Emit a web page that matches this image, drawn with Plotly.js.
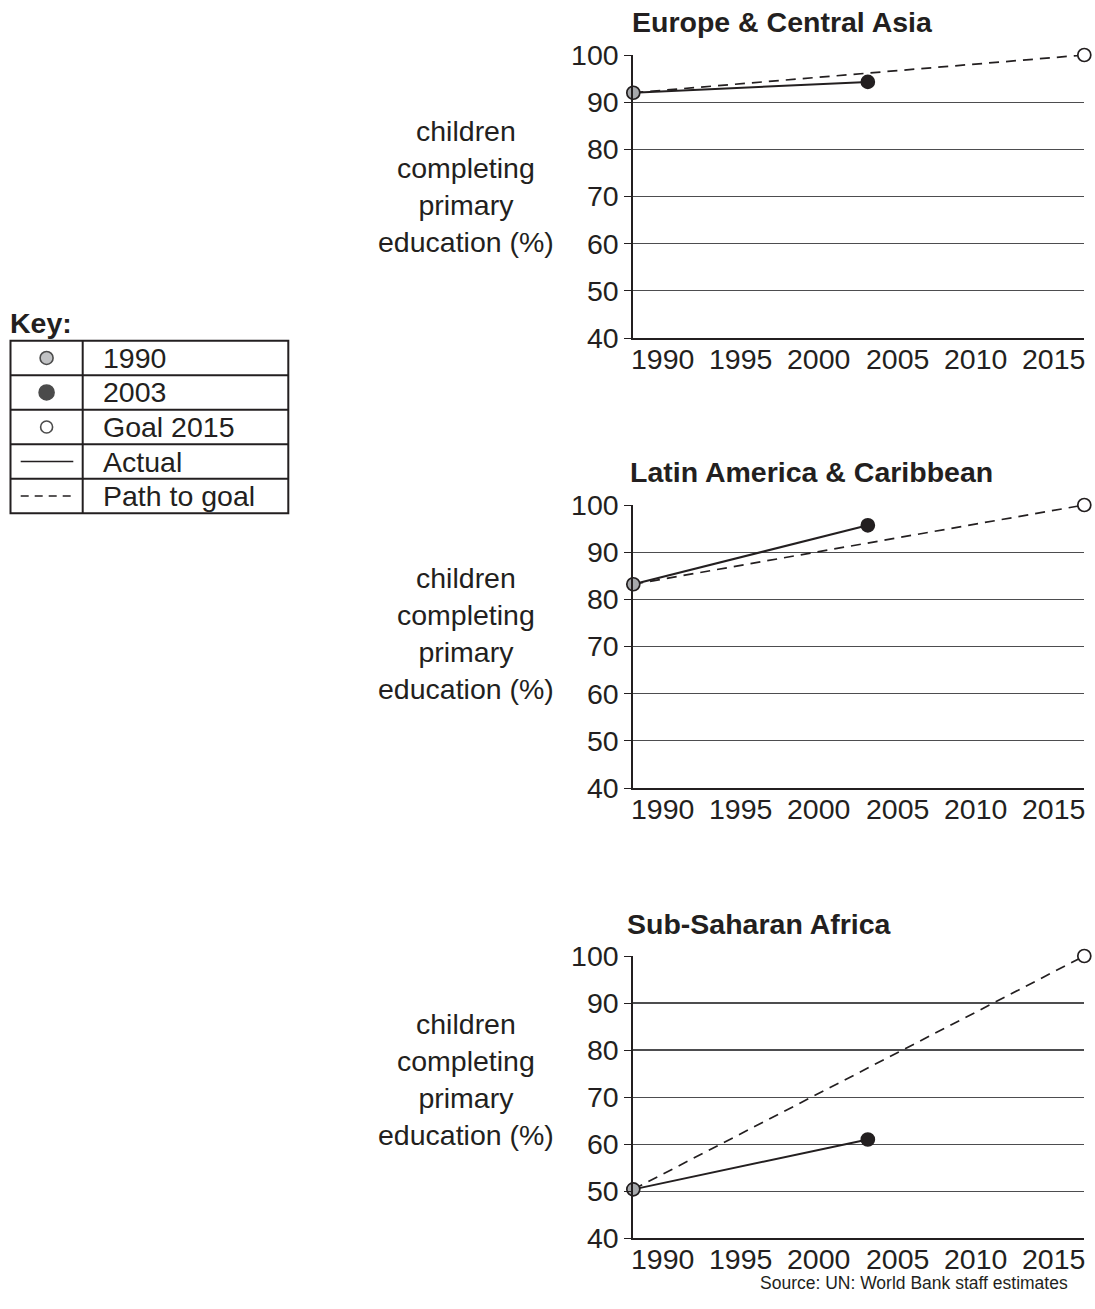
<!DOCTYPE html>
<html>
<head>
<meta charset="utf-8">
<script src="https://cdn.plot.ly/plotly-3.0.1.min.js"></script>
<style>
  html, body { margin: 0; padding: 0; background: #fff; }
  #chart { width: 1095px; height: 1309px; }
</style>
</head>
<body>
<div id="chart"></div>
<script>
// ---------------- DATA ----------------
const regions = ["Europe & Central Asia", "Latin America & Caribbean", "Sub-Saharan Africa"];
const yearStart = 1990;
const yearActual = 2003;
const yearGoal = 2015;
const value1990 = [92, 83.2, 50.4];
const value2003 = [94.3, 95.7, 61];
const goal2015 = [100, 100, 100];
const xTickLabels = ["1990", "1995", "2000", "2005", "2010", "2015"];
const yTickValues = [40, 50, 60, 70, 80, 90, 100];
const yAxisTitle = "children<br>completing<br>primary<br>education (%)";
const keyLabels = ["1990", "2003", "Goal 2015", "Actual", "Path to goal"];
const sourceText = "Source: UN: World Bank staff estimates";

// ---------------- STYLE / LAYOUT ----------------
const W = 1095, H = 1309;
const px = x => x / W;
const py = y => 1 - y / H;
const FONT = "Liberation Sans, Arial, Helvetica, sans-serif";
const INK = "#231f20";
const GRAY_FILL = "#a7a9ac";

// plot areas in pixels (top = value 100, bottom = value 40)
const plotTop = [55, 505, 956];
const plotBottom = [338, 788, 1238.3];
const plotLeft = 633.3, plotRight = 1084.3;
const titleY = [22, 472, 924];
const titleX = [630, 628, 625];
const yTitleY = [186.5, 633, 1079];

// x tick label positions (evenly spread across axis width)
const tickPos = xTickLabels.map((_, i) => 1991.6 + i * 4.34);

const traces = [];
const layout = {
  width: W, height: H,
  margin: {l: 0, r: 0, t: 0, b: 0},
  paper_bgcolor: "#fff", plot_bgcolor: "rgba(0,0,0,0)",
  showlegend: false,
  font: {family: FONT, color: INK, size: 28},
  annotations: [], shapes: []
};

regions.forEach((name, i) => {
  const n = i === 0 ? "" : String(i + 1);
  const xa = "x" + n, ya = "y" + n;
  // path to goal (dashed)
  traces.push({
    x: [yearStart, yearGoal], y: [value1990[i], goal2015[i]],
    xaxis: xa, yaxis: ya, mode: "lines", hoverinfo: "skip",
    line: {color: INK, width: 1.7, dash: "10px,7px"}, cliponaxis: false
  });
  // actual (solid)
  traces.push({
    x: [yearStart, yearActual], y: [value1990[i], value2003[i]],
    xaxis: xa, yaxis: ya, mode: "lines",
    line: {color: INK, width: 2}, cliponaxis: false
  });
  // markers
  traces.push({
    x: [yearStart, yearActual, yearGoal],
    y: [value1990[i], value2003[i], goal2015[i]],
    xaxis: xa, yaxis: ya, mode: "markers", cliponaxis: false,
    marker: {
      size: 13,
      color: [GRAY_FILL, INK, "#ffffff"],
      line: {color: INK, width: 1.7}
    }
  });

  const dom = [py(plotBottom[i]), py(plotTop[i])];
  layout["xaxis" + n] = {
    domain: [px(plotLeft), px(plotRight)],
    range: [yearStart, yearGoal],
    anchor: ya,
    showgrid: false, zeroline: false,
    showline: true, linecolor: INK, linewidth: 2,
    ticks: "", showticklabels: false,
    fixedrange: true
  };
  layout["yaxis" + n] = {
    domain: dom,
    range: [40, 100],
    anchor: xa,
    tickmode: "array", tickvals: yTickValues,
    showgrid: true, gridcolor: "#4d4d4f", gridwidth: 1.2,
    zeroline: false,
    showline: true, linecolor: INK, linewidth: 2,
    ticks: "outside", ticklen: 7, tickwidth: 1, tickcolor: INK,
    tickfont: {family: FONT, size: 28.5, color: INK},
    fixedrange: true
  };

  // x tick labels
  xTickLabels.forEach((lab, k) => {
    layout.annotations.push({
      xref: xa, yref: "paper", x: tickPos[k], y: py(plotBottom[i] + 21),
      xanchor: "center", yanchor: "middle", showarrow: false,
      text: lab, font: {family: FONT, size: 28.5, color: INK}
    });
  });

  layout.annotations.push({
    xref: "paper", yref: "paper", x: px(titleX[i]), y: py(titleY[i]),
    xanchor: "left", yanchor: "middle", showarrow: false,
    text: "<b>" + name + "</b>",
    font: {family: FONT, size: 28.5, color: INK}
  });
  layout.annotations.push({
    xref: "paper", yref: "paper", x: px(465.5), y: py(yTitleY[i]),
    xanchor: "center", yanchor: "middle", align: "center", showarrow: false,
    text: yAxisTitle,
    font: {family: FONT, size: 28.5, color: INK}
  });
});

// Source
layout.annotations.push({
  xref: "paper", yref: "paper", x: px(1070), y: py(1283),
  xanchor: "right", yanchor: "middle", showarrow: false,
  text: sourceText, font: {family: FONT, size: 17.5, color: INK}
});

// ---------------- KEY TABLE ----------------
layout.annotations.push({
  xref: "paper", yref: "paper", x: px(8), y: py(323),
  xanchor: "left", yanchor: "middle", showarrow: false,
  text: "<b>Key:</b>", font: {family: FONT, size: 28.5, color: INK}
});
const tL = 10.5, tR = 288.3, tT = 340.7, tB = 513.3, tC = 82.7;
const rowH = (tB - tT) / keyLabels.length;
const lineStyle = {color: INK, width: 2};
layout.shapes.push({type: "rect", xref: "paper", yref: "paper",
  x0: px(tL), x1: px(tR), y0: py(tT), y1: py(tB), line: lineStyle});
layout.shapes.push({type: "line", xref: "paper", yref: "paper",
  x0: px(tC), x1: px(tC), y0: py(tT), y1: py(tB), line: lineStyle});
for (let r = 1; r < keyLabels.length; r++) {
  layout.shapes.push({type: "line", xref: "paper", yref: "paper",
    x0: px(tL), x1: px(tR), y0: py(tT + r * rowH), y1: py(tT + r * rowH), line: lineStyle});
}
keyLabels.forEach((lab, r) => {
  const cy = tT + (r + 0.5) * rowH;
  layout.annotations.push({
    xref: "paper", yref: "paper", x: px(101), y: py(cy),
    xanchor: "left", yanchor: "middle", showarrow: false,
    text: lab, font: {family: FONT, size: 28.5, color: INK}
  });
});
// key symbols via a hidden overlay axis in pixel units
layout.xaxis4 = {domain: [0, 1], range: [0, W], visible: false, fixedrange: true, anchor: "y4"};
layout.yaxis4 = {domain: [0, 1], range: [H, 0], visible: false, fixedrange: true, anchor: "x4"};
const symX = (tL + tC) / 2;
const rc = r => tT + (r + 0.5) * rowH;
traces.push({
  x: [symX, symX, symX], y: [rc(0), rc(1), rc(2)],
  xaxis: "x4", yaxis: "y4", mode: "markers", hoverinfo: "skip",
  marker: {size: [13, 15, 12], color: [GRAY_FILL, "#000000", "#ffffff"], line: {color: "#000000", width: 1.6}}
});
traces.push({
  x: [20.7, 73.3], y: [rc(3), rc(3)], xaxis: "x4", yaxis: "y4", mode: "lines", hoverinfo: "skip",
  line: {color: INK, width: 1.6}
});
traces.push({
  x: [20.7, 73.3], y: [rc(4), rc(4)], xaxis: "x4", yaxis: "y4", mode: "lines", hoverinfo: "skip",
  line: {color: INK, width: 1.6, dash: "8px,6px"}
});

Plotly.newPlot("chart", traces, layout, {displayModeBar: false, staticPlot: true});
</script>
</body>
</html>
